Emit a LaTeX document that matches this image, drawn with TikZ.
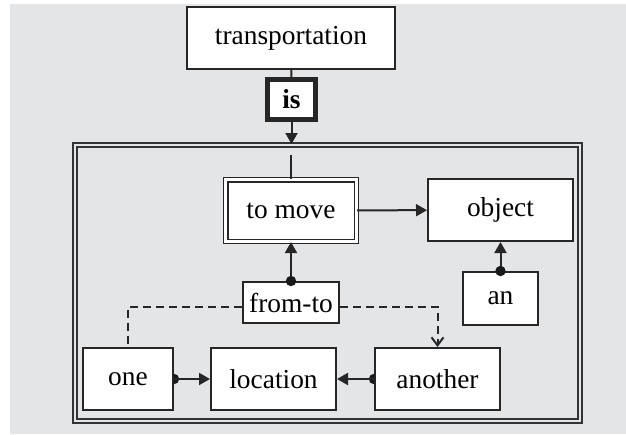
\documentclass[tikz,border=0pt]{standalone}
\usepackage{fontspec}
\setmainfont{Liberation Serif}
\usetikzlibrary{arrows.meta}
\usetikzlibrary{backgrounds}
\definecolor{pagegray}{HTML}{E4E5E7}

\begin{document}
\begin{tikzpicture}[x=0.5pt,y=-0.5pt,
    box/.style={draw=black!85,line width=1pt,fill=white,inner sep=0pt,
        font=\fontsize{13.7}{16}\selectfont},
    dbox/.style={box,double=white,double distance=1.3pt,line width=0.75pt},
    isbox/.style={box,line width=2.5pt,font=\fontsize{13.7}{16}\selectfont\bfseries},
    framebox/.style={draw=black!80,double=pagegray,double distance=1.3pt,line width=1pt,inner sep=0pt},
    link/.style={draw=black!85,line width=1pt,-{Triangle[length=5.5pt,width=6pt]}},
    dashlink/.style={draw=black!85,line width=1pt,dash pattern=on 4pt off 2.5pt},
    dot/.style={fill=black!90}]
    \useasboundingbox (0,0) rectangle (626,434);
    \node[framebox,minimum width=252.5pt,minimum height=138pt] (frame) at (327.5,283) {};
    \node[box,minimum width=104pt,minimum height=31pt] (trans) at (291,38) {transportation};
    \node[isbox,minimum width=24pt,minimum height=20pt] (is) at (291.5,99.5) {is};
    \node[dbox,minimum width=65.3pt,minimum height=30.8pt] (move) at (291,210.5) {to move};
    \node[box,minimum width=72.5pt,minimum height=31pt] (obj) at (500.5,210) {object};
    \node[box,minimum width=48pt,minimum height=20.5pt] (ft) at (291,302.5) {from-to};
    \node[box,minimum width=37.5pt,minimum height=26.5pt] (an) at (500.5,298.5) {an};
    \node[box,minimum width=45pt,minimum height=31pt] (one) at (128,379) {one};
    \node[box,minimum width=62.5pt,minimum height=31pt] (loc) at (273.5,379) {location};
    \node[box,minimum width=62.5pt,minimum height=31pt] (another) at (437.5,379) {another};
    \coordinate (entry) at (291,155);
    \draw[line width=1pt,black!85] (trans) -- (is);
    \draw[link] (is) -- (is |- frame.north);
    \draw[line width=1pt,black!85] (entry) -- (move.north);
    \draw[link] (move) -- (obj);
    \draw[link] (ft) -- (move);
    \draw[link] (an) -- (obj);
    \draw[link] (one) -- (loc);
    \draw[link] (another) -- (loc);
    \draw[dashlink] ([yshift=-2pt]ft.west) -| (one.north);
    \draw[dashlink,-{Straight Barb[length=4pt,width=6pt]}] ([yshift=-2pt]ft.east) -| (another.north);
    \fill[dot] (ft.north) circle (2.6pt);
    \fill[dot] (an.north) circle (2.6pt);
    \begin{scope}[on background layer]
        \fill[pagegray] (10,4) rectangle (626,434);
        \fill[dot] (one.east) circle (2.6pt);
        \fill[dot] (another.west) circle (2.6pt);
    \end{scope}
\end{tikzpicture}
\end{document}
